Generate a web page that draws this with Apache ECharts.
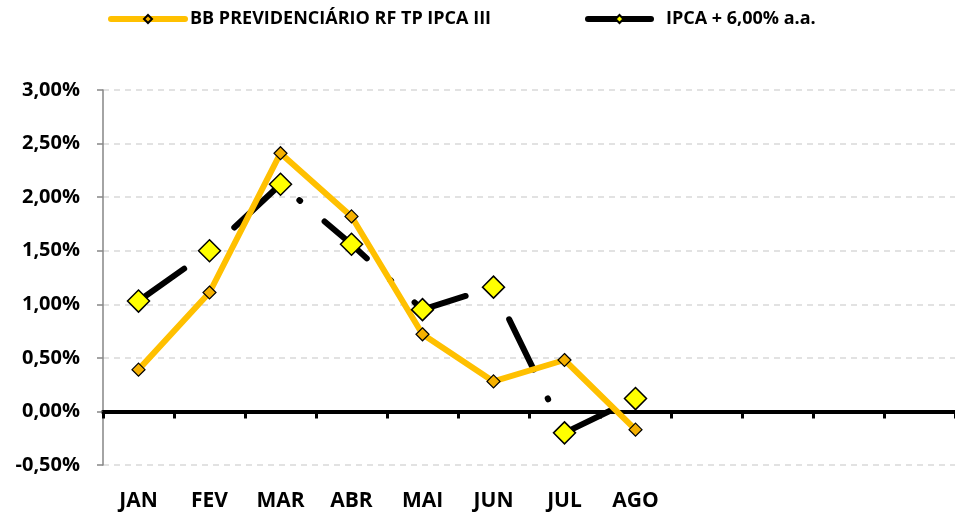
<!DOCTYPE html>
<html>
<head>
<meta charset="utf-8">
<script src="https://cdn.jsdelivr.net/npm/echarts@6/dist/echarts.min.js"></script>
<style>
html, body { margin: 0; padding: 0; background: #fff; }
#chart { width: 955px; height: 513px; }
</style>
</head>
<body>
<div id="chart"></div>
<script>
// meses (os 4 ultimos ficam sem rotulo)
var meses = ['JAN', 'FEV', 'MAR', 'ABR', 'MAI', 'JUN', 'JUL', 'AGO', '', '', '', ''];
var fundo = [0.39, 1.11, 2.41, 1.82, 0.72, 0.28, 0.48, -0.17];
var ipca6 = [1.03, 1.50, 2.12, 1.56, 0.95, 1.16, -0.20, 0.12];
var nomeFundo = 'BB PREVIDENCIÁRIO RF TP IPCA III';
var nomeIpca = 'IPCA + 6,00% a.a.';

var fonte = 'Open Sans';

var myChart = echarts.init(document.getElementById('chart'));
var option = {
    animation: false,
    grid: {
        left: 103,
        top: 90,
        width: 858,
        bottom: 48
    },
    legend: [{
        data: [nomeFundo],
        left: 108,
        top: 10,
        padding: 0,
        itemWidth: 74,
        itemHeight: 10,
        lineStyle: { type: 'solid', width: 6, cap: 'round' },
        textStyle: { fontFamily: fonte, fontWeight: 'bold', fontSize: 18, color: '#000' }
    }, {
        data: [nomeIpca],
        left: 585,
        top: 10,
        padding: 0,
        itemWidth: 63,
        itemHeight: 10,
        lineStyle: { type: 'solid', width: 6, cap: 'round' },
        textStyle: { fontFamily: fonte, fontWeight: 'bold', fontSize: 18, color: '#000', padding: [0, 0, 0, 10] }
    }],
    xAxis: [{
        type: 'category',
        data: meses,
        position: 'bottom',
        axisLine: { show: false, onZero: false },
        axisTick: { show: false },
        axisLabel: {
            margin: 26,
            fontFamily: fonte,
            fontWeight: 'bold',
            fontSize: 21,
            color: '#000',
            interval: 0
        },
        splitLine: { show: false }
    }, {
        type: 'category',
        data: meses,
        position: 'bottom',
        axisLine: {
            show: true,
            onZero: true,
            lineStyle: { color: '#000', width: 4 }
        },
        axisTick: {
            show: true,
            length: 7,
            lineStyle: { color: '#000', width: 3 }
        },
        axisLabel: { show: false },
        splitLine: { show: false }
    }],
    yAxis: {
        type: 'value',
        min: -0.5,
        max: 3,
        interval: 0.5,
        axisLine: {
            show: true,
            lineStyle: { color: '#868686', width: 1.5 }
        },
        axisTick: {
            show: true,
            length: 6,
            lineStyle: { color: '#868686', width: 1.5 }
        },
        axisLabel: {
            margin: 23,
            fontFamily: fonte,
            fontWeight: 'bold',
            fontSize: 20,
            color: '#000',
            formatter: function (v) {
                return v.toFixed(2).replace('.', ',') + '%';
            }
        },
        splitLine: {
            show: true,
            lineStyle: { color: '#D9D9D9', width: 1.5, type: [6, 5] }
        }
    },
    series: [{
        name: nomeIpca,
        type: 'line',
        data: ipca6,
        xAxisIndex: 0,
        symbol: 'diamond',
        symbolSize: 22,
        lineStyle: {
            color: '#000',
            width: 6,
            type: [56, 32, 1, 32],
            cap: 'round',
            join: 'round'
        },
        itemStyle: {
            color: '#FFFF00',
            borderColor: '#000',
            borderWidth: 1.5
        }
    }, {
        name: nomeFundo,
        type: 'line',
        data: fundo,
        xAxisIndex: 0,
        symbol: 'diamond',
        symbolSize: 13,
        lineStyle: {
            color: '#FFC000',
            width: 6,
            join: 'round'
        },
        itemStyle: {
            color: '#F5B000',
            borderColor: '#000',
            borderWidth: 1.2
        }
    }]
};
myChart.setOption(option);
</script>
</body>
</html>
